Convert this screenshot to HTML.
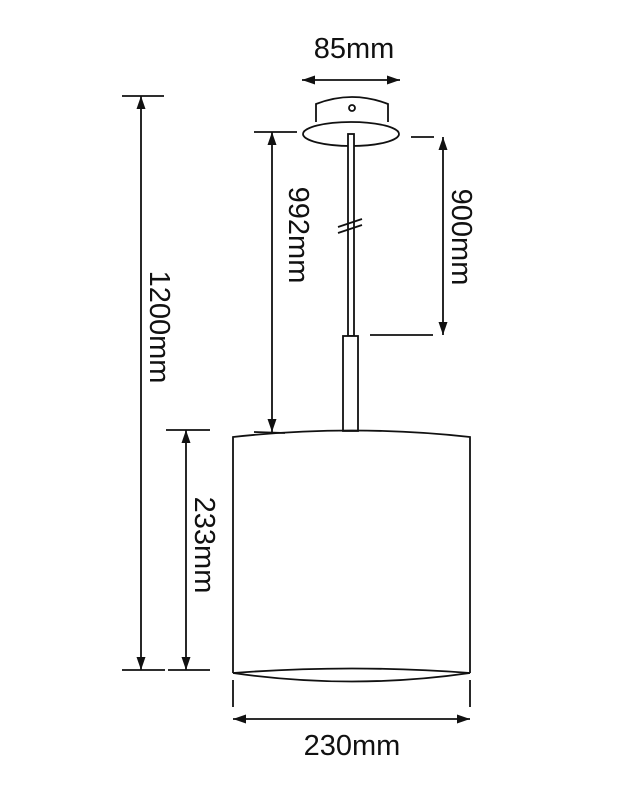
<!DOCTYPE html>
<html><head><meta charset="utf-8"><style>
html,body{margin:0;padding:0;background:#fff;}
svg{display:block;}
text{font-family:"Liberation Sans",Arial,sans-serif;font-size:29px;fill:#111;}
</style></head><body>
<svg width="642" height="794" viewBox="0 0 642 794" xmlns="http://www.w3.org/2000/svg">
<defs>
<marker id="a" viewBox="0 0 13 9" refX="13" refY="4.5" markerWidth="13" markerHeight="9" markerUnits="userSpaceOnUse" orient="auto-start-reverse">
<path d="M0,0 L13,4.5 L0,9 Z" fill="#111"/>
</marker>
</defs>
<g stroke="#111" stroke-width="1.8" fill="none">
<line x1="302" y1="80" x2="400" y2="80" marker-start="url(#a)" marker-end="url(#a)"/>
<path d="M316,122 L316,104 Q352,90 388,104 L388,122"/>
<ellipse cx="351" cy="134" rx="48" ry="12" fill="#fff"/>
<circle cx="352" cy="108" r="3"/>
<rect x="348" y="134" width="6" height="202" fill="#fff"/>
<line x1="338" y1="227" x2="362" y2="219"/>
<line x1="338" y1="233" x2="362" y2="225"/>
<rect x="343" y="336" width="15" height="95" fill="#fff"/>
<path d="M233,673 L233,437 Q352,424 470,437 L470,673"/>
<path d="M233,673 Q352,690 470,673"/>
<path d="M233,673 Q352,664 470,673"/>
<line x1="233" y1="680" x2="233" y2="707"/>
<line x1="470" y1="680" x2="470" y2="707"/>
<line x1="233" y1="719" x2="470" y2="719" marker-start="url(#a)" marker-end="url(#a)"/>
<line x1="122" y1="96" x2="164" y2="96"/>
<line x1="122" y1="670" x2="165" y2="670"/>
<line x1="141" y1="96" x2="141" y2="670" marker-start="url(#a)" marker-end="url(#a)"/>
<line x1="166" y1="430" x2="210" y2="430"/>
<line x1="168" y1="670" x2="210" y2="670"/>
<line x1="186" y1="430" x2="186" y2="670" marker-start="url(#a)" marker-end="url(#a)"/>
<line x1="254" y1="132" x2="297" y2="132"/>
<line x1="254" y1="432" x2="285" y2="433"/>
<line x1="272" y1="132" x2="272" y2="432" marker-start="url(#a)" marker-end="url(#a)"/>
<line x1="411" y1="137" x2="434" y2="137"/>
<line x1="370" y1="335" x2="433" y2="335"/>
<line x1="443" y1="137" x2="443" y2="335" marker-start="url(#a)" marker-end="url(#a)"/>
</g>
<text x="354" y="58" text-anchor="middle">85mm</text>
<text x="352" y="755" text-anchor="middle">230mm</text>
<text transform="translate(150,327) rotate(90)" text-anchor="middle">1200mm</text>
<text transform="translate(195,545) rotate(90)" text-anchor="middle">233mm</text>
<text transform="translate(289,235) rotate(90)" text-anchor="middle">992mm</text>
<text transform="translate(452,237) rotate(90)" text-anchor="middle">900mm</text>
</svg>
</body></html>
